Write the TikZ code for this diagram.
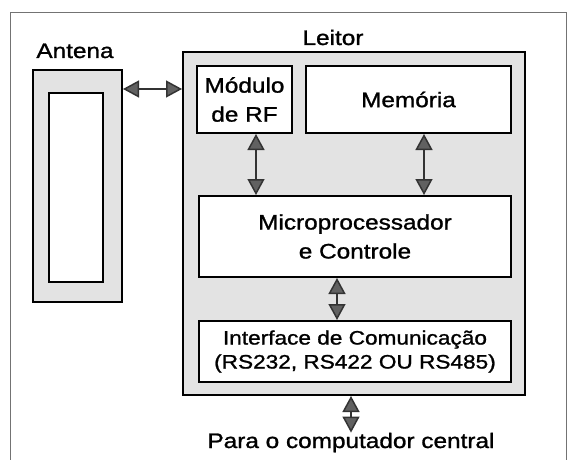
\documentclass[tikz,border=0pt]{standalone}
\usepackage{fontspec}
\setmainfont{Liberation Sans}[FakeStretch=1.16,FakeBold=1.2]
\usetikzlibrary{arrows.meta}
\begin{document}
\begin{tikzpicture}[x=1pt,y=-1pt,
  graybox/.style={draw=black, line width=2pt, fill=gray!22, inner sep=0pt},
  whitebox/.style={draw=black, line width=2pt, fill=white, inner sep=0pt, align=center, font=\fontsize{21}{29}\selectfont},
  lbl/.style={inner sep=0pt, font=\fontsize{21}{25}\selectfont},
  biarrow/.style={draw=black!80, line width=1.5pt,
    {Triangle[length=16pt,width=17pt,fill=black!62]}-{Triangle[length=16pt,width=17pt,fill=black!62]}}
]
\useasboundingbox (0,0) rectangle (576,460);
% outer frame
\draw[black!55, line width=0.8pt] (10,470) -- (10,12) -- (566,12) -- (566,470);

% antenna
\node[graybox, minimum width=89pt, minimum height=232pt] (ant) at (77.5,186) {};
\node[draw=black, line width=2pt, fill=white, inner sep=0pt, minimum width=54pt, minimum height=189pt] (antin) at (76,187.5) {};
\node[lbl, anchor=base] (antlbl) at (75,58) {Antena};

% reader
\node[graybox, minimum width=342pt, minimum height=343pt] (leitor) at (354,223.5) {};
\node[lbl, anchor=base] (leitorlbl) at (333,45) {Leitor};

\node[whitebox, minimum width=95pt, minimum height=67pt] (rf) at (244.5,99.5) {Módulo\\de RF};
\node[whitebox, minimum width=205pt, minimum height=67pt] (mem) at (408.5,99.5) {Memória};
\node[whitebox, minimum width=312pt, minimum height=81pt] (micro) at (355,236.5) {Microprocessador\\e Controle};
\node[whitebox, minimum width=312pt, minimum height=61pt, font=\fontsize{19.5}{24}\selectfont] (iface) at (355,351.5) {Interface de Comunicação\\(RS232, RS422 OU RS485)};

\node[lbl, anchor=base] (para) at (351,448) {Para o computador central};

% helper coordinates for arrow positions
\coordinate (yant) at (0,89);
\coordinate (xrf) at (256,0);
\coordinate (xmem) at (424,0);
\coordinate (xmic) at (337,0);
\coordinate (xpc) at (351,0);

\draw[biarrow] (ant.east |- yant) -- (leitor.west |- yant);
\draw[biarrow] (rf.south -| xrf) -- (micro.north -| xrf);
\draw[biarrow] (mem.south -| xmem) -- (micro.north -| xmem);
\draw[biarrow] (micro.south -| xmic) -- (iface.north -| xmic);
\draw[biarrow] (leitor.south -| xpc) -- (para.north -| xpc);
\end{tikzpicture}
\end{document}
